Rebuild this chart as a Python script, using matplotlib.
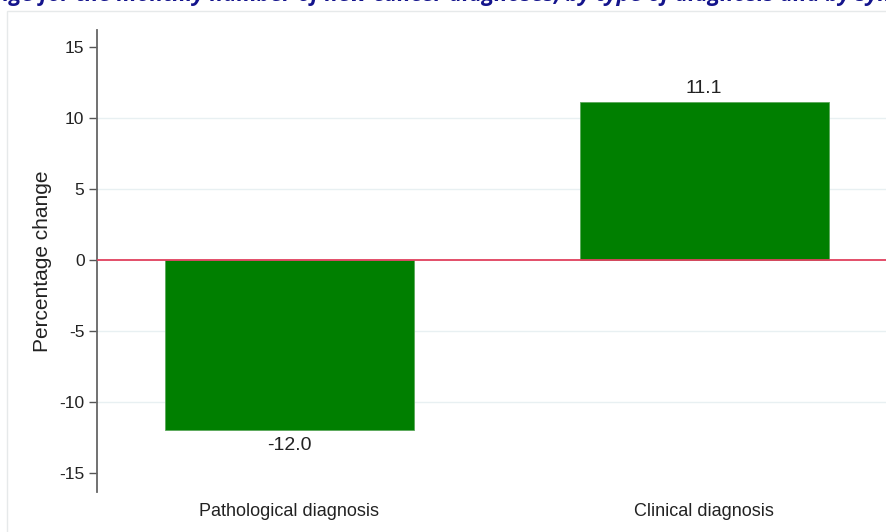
import matplotlib.pyplot as plt
from matplotlib.patches import Rectangle

# values
categories = ['Pathological diagnosis', 'Clinical diagnosis']
pct_change = [-12.0, 11.1]
yticks = [-15, -10, -5, 0, 5, 10, 15]
title = ('Figure 2. Percentage change for the monthly number of new cancer diagnoses, '
         'by type of diagnosis and by symptom status of patients')

plt.rcParams['font.family'] = ['Liberation Sans', 'DejaVu Sans']

fig = plt.figure(figsize=(8.86, 5.32), dpi=100)
ax = fig.add_axes([97 / 886, 40 / 532, 1 - 97 / 886 + 0.02, 462 / 532])

# faint outer frame of the graph region
fig.patches.append(Rectangle((7 / 886, -0.1), 1.2, 1 - 11 / 532 + 0.1, transform=fig.transFigure,
                             fill=False, edgecolor='#e6e9ea', linewidth=1))

# title, cut off at the very top of the image
fig.text(0.5, 1 - 0.5 / 532, title, color='#14148c', fontsize=16, fontweight='bold',
         fontstyle='italic', family=['Open Sans', 'DejaVu Sans'], va='baseline', ha='center')

x = range(len(categories))
ax.bar(x, pct_change, width=0.6, color='#007f00', edgecolor='#5aa85a', linewidth=0.6, zorder=2)
ax.axhline(0, color='#e0405e', linewidth=1.3, zorder=3)

for xi, v in zip(x, pct_change):
    off = 0.4 if v > 0 else -0.5
    ax.text(xi, v + off, f'{v:.1f}', ha='center', va='bottom' if v > 0 else 'top',
            fontsize=14, color='#222222')

ax.set_ylim(-16.35, 16.2)
ax.set_xlim(-0.463, 1.481)
ax.set_yticks(yticks)
ax.set_yticklabels([str(t) for t in yticks], fontsize=12.5, color='#222222')
ax.set_xticks(list(x))
ax.set_xticklabels(categories, fontsize=13, color='#222222')
ax.tick_params(axis='x', length=0, pad=8)
ax.tick_params(axis='y', length=6, color='#555555', width=1, pad=3)
ax.set_ylabel('Percentage change', fontsize=15, color='#222222', labelpad=5)

for t in [-10, -5, 5, 10]:
    ax.axhline(t, color='#e8f0f2', linewidth=1, zorder=1)

for s in ['top', 'right', 'bottom']:
    ax.spines[s].set_visible(False)
ax.spines['left'].set_color('#666666')
ax.spines['left'].set_linewidth(1.3)

fig.savefig('out.png', dpi=100)
